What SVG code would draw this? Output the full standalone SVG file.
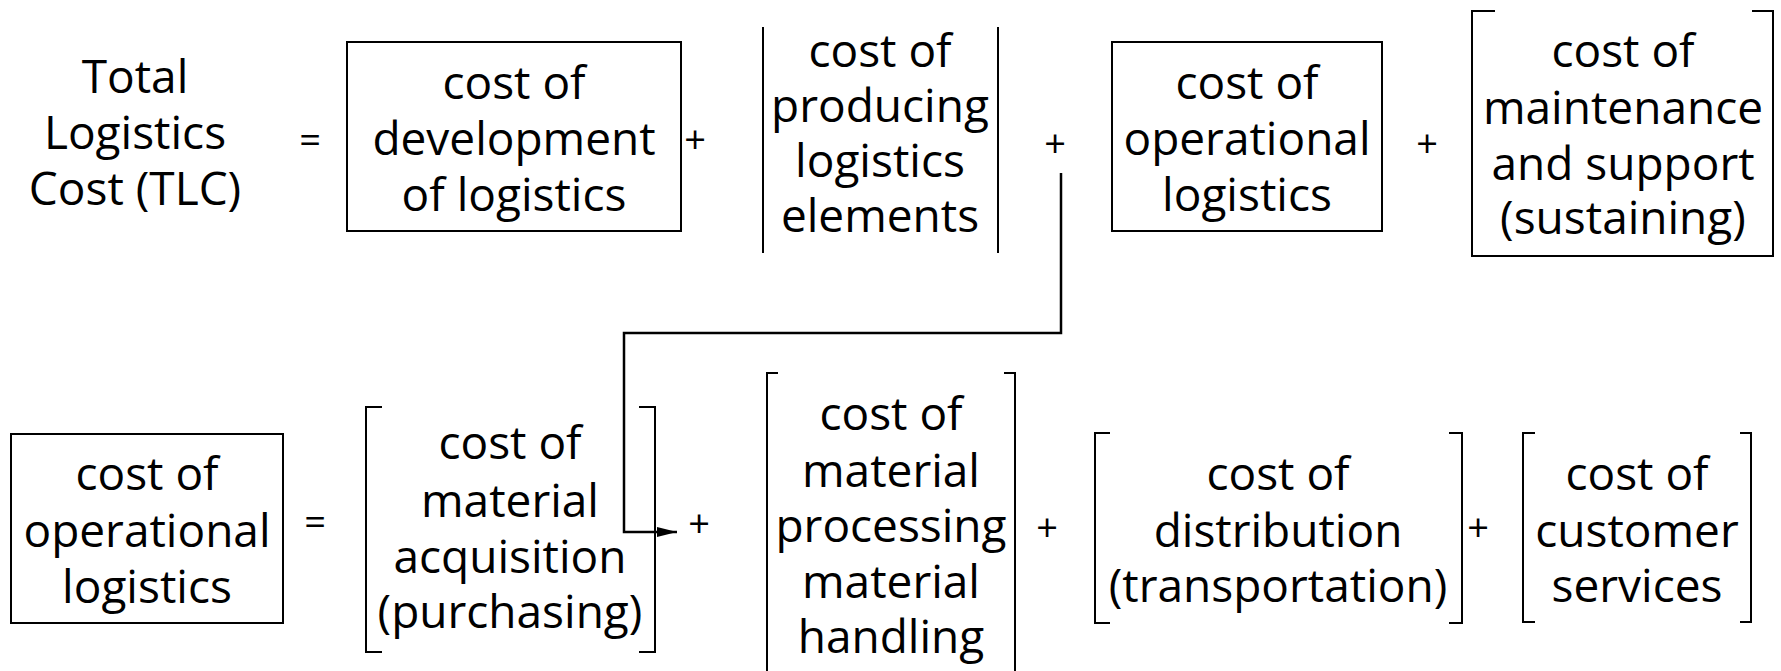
<svg xmlns="http://www.w3.org/2000/svg" width="1781" height="671" viewBox="0 0 1781 671">
  <defs>
    <style>
      .t { font-family: "Open Sans", "DejaVu Sans", sans-serif; font-size: 46px; fill: #000; text-anchor: middle; }
      .op { font-family: "Open Sans", "DejaVu Sans", sans-serif; font-size: 38px; fill: #000; text-anchor: middle; }
      .frame { fill: none; stroke: #000; stroke-width: 2; }
      .link { fill: none; stroke: #000; stroke-width: 2.5; }
    </style>
    <marker id="arrow" viewBox="0 0 20 10" refX="20" refY="5" markerWidth="20" markerHeight="10" markerUnits="userSpaceOnUse" orient="auto">
      <path d="M0,0 L20,5 L0,10 Z" fill="#000"/>
    </marker>
  </defs>
  <rect width="1781" height="671" fill="#fff"/>

  <!-- first equation: total logistics cost -->
  <g id="tlc">
    <text class="t" x="135" y="93">Total</text>
    <text class="t" x="135" y="149">Logistics</text>
    <text class="t" x="135" y="205">Cost (TLC)</text>
  </g>
  <text class="op" x="310" y="153">=</text>

  <g id="development">
    <rect class="frame" x="347" y="42" width="334" height="189"/>
    <text class="t" x="514" y="99">cost of</text>
    <text class="t" x="514" y="155">development</text>
    <text class="t" x="514" y="211">of logistics</text>
  </g>
  <text class="op" x="695" y="153">+</text>

  <g id="producing">
    <path class="frame" d="M763,27 V253 M998,27 V253"/>
    <text class="t" x="880" y="67">cost of</text>
    <text class="t" x="880" y="122">producing</text>
    <text class="t" x="880" y="177">logistics</text>
    <text class="t" x="880" y="232">elements</text>
  </g>
  <text class="op" x="1055" y="157">+</text>

  <g id="operational">
    <rect class="frame" x="1112" y="42" width="270" height="189"/>
    <text class="t" x="1247" y="99">cost of</text>
    <text class="t" x="1247" y="155">operational</text>
    <text class="t" x="1247" y="211">logistics</text>
  </g>
  <text class="op" x="1427" y="157">+</text>

  <g id="maintenance">
    <path class="frame" d="M1495,11 H1472 V256 H1773 V11 H1752"/>
    <text class="t" x="1623" y="67">cost of</text>
    <text class="t" x="1623" y="124">maintenance</text>
    <text class="t" x="1623" y="180">and support</text>
    <text class="t" x="1623" y="234">(sustaining)</text>
  </g>

  <!-- second equation: operational logistics breakdown -->
  <g id="operational-2">
    <rect class="frame" x="11" y="434" width="272" height="189"/>
    <text class="t" x="147" y="490">cost of</text>
    <text class="t" x="147" y="547">operational</text>
    <text class="t" x="147" y="603">logistics</text>
  </g>
  <text class="op" x="315" y="535">=</text>

  <g id="acquisition">
    <path class="frame" d="M382,407 H366 V652 H382 M639,407 H655 V652 H639"/>
    <text class="t" x="510" y="459">cost of</text>
    <text class="t" x="510" y="517">material</text>
    <text class="t" x="510" y="573">acquisition</text>
    <text class="t" x="510" y="628">(purchasing)</text>
  </g>
  <text class="op" x="699" y="537">+</text>

  <g id="processing">
    <path class="frame" d="M778,373 H767 V675 M1004,373 H1015 V675"/>
    <text class="t" x="891" y="430">cost of</text>
    <text class="t" x="891" y="487">material</text>
    <text class="t" x="891" y="542">processing</text>
    <text class="t" x="891" y="598">material</text>
    <text class="t" x="891" y="653">handling</text>
  </g>
  <text class="op" x="1047" y="541">+</text>

  <g id="distribution">
    <path class="frame" d="M1110,433 H1095 V623 H1110 M1449,433 H1462 V623 H1449"/>
    <text class="t" x="1278" y="490">cost of</text>
    <text class="t" x="1278" y="547">distribution</text>
    <text class="t" x="1278" y="602">(transportation)</text>
  </g>
  <text class="op" x="1478" y="541">+</text>

  <g id="customer">
    <path class="frame" d="M1535,433 H1523 V622 H1535 M1740,433 H1751 V622 H1740"/>
    <text class="t" x="1637" y="490">cost of</text>
    <text class="t" x="1637" y="547">customer</text>
    <text class="t" x="1637" y="602">services</text>
  </g>

  <!-- connector from the first equation to the expansion -->
  <g id="connectors">
    <path class="link" d="M1061,173 V333 H624 V532 H677" marker-end="url(#arrow)"/>
  </g>
</svg>
